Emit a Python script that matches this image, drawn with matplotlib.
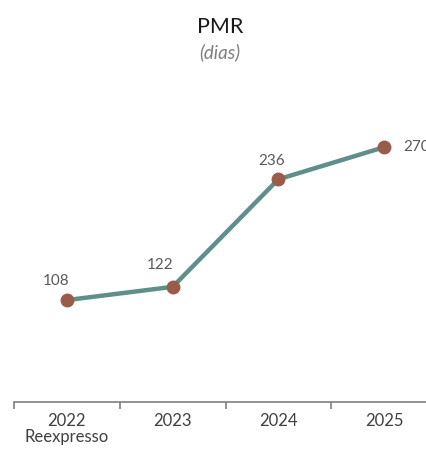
import matplotlib
matplotlib.use('Agg')
import matplotlib.pyplot as plt
import numpy as np

plt.rcParams['font.family'] = ['Lato', 'DejaVu Sans']

years = ['2022\nReexpresso', '2023', '2024', '2025']
pmr = [108, 122, 236, 270]
# label offsets in points (dx, dy) and alignment
offsets = [(-8, 14, 'center'), (-9, 16, 'center'), (-5, 13, 'center'), (14, 0, 'left')]

fig = plt.figure(figsize=(4.26, 4.5), dpi=100)
ax = fig.add_axes([14/426, 48/450, 423/426, 302/450])

x = np.arange(len(pmr)) + 0.5
ax.plot(x, pmr, color='#5E8F88', linewidth=3.2, zorder=2,
        solid_capstyle='round')
ax.plot(x, pmr, 'o', color='#9A5B4B', markersize=9, zorder=3)

for xi, v, (dx, dy, ha) in zip(x, pmr, offsets):
    ax.annotate(str(v), (xi, v), xytext=(dx, dy), textcoords='offset points',
                ha=ha, va='center', fontsize=11, color='#595959')

ax.set_xlim(0, 4)
ax.set_ylim(0, 320)
ax.set_yticks([])
for s in ['top', 'right', 'left']:
    ax.spines[s].set_visible(False)
ax.spines['bottom'].set_color('#808080')
ax.spines['bottom'].set_linewidth(1.2)
ax.set_xticks([0, 1, 2, 3, 4])
ax.set_xticklabels([])
ax.tick_params(axis='x', length=5, color='#808080', width=1.2, direction='out')
ax.set_xticks(x, minor=True)
ax.set_xticklabels(years, minor=True, fontsize=12, color='#404040',
                   linespacing=1.0)
ax.tick_params(axis='x', which='minor', length=0, pad=8)

fig.text(220/426, 1 - 27/450, 'PMR', ha='center', va='center',
         fontsize=15.5, color='#1a1a1a')
fig.text(220/426, 1 - 52/450, '(dias)', ha='center', va='center',
         fontsize=13.5, color='#7f7f7f', style='italic')

fig.savefig('out.png', dpi=100)
